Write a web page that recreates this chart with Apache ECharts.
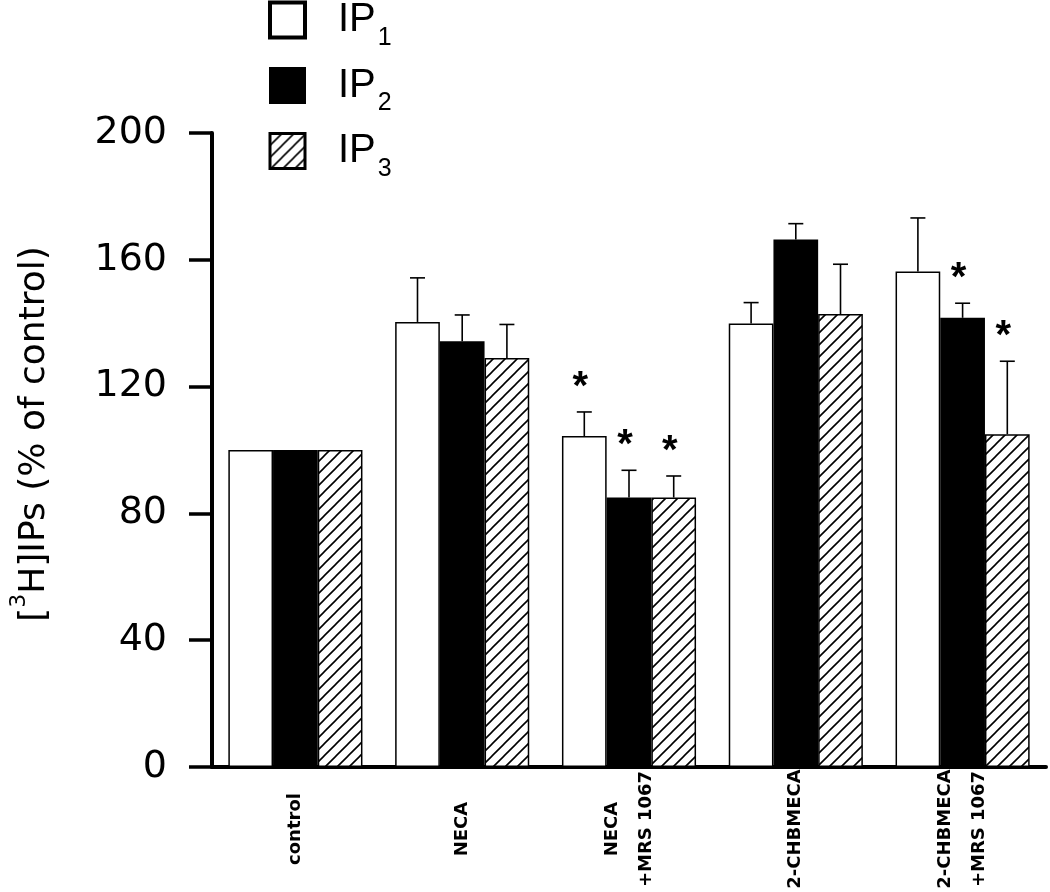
<!DOCTYPE html>
<html>
<head>
<meta charset="utf-8">
<script src="https://cdn.jsdelivr.net/npm/echarts@6/dist/echarts.min.js"></script>
<style>
html,body{margin:0;padding:0;background:#fff;}
#chart{width:1050px;height:892px;}
</style>
</head>
<body>
<div id="chart"></div>
<script>
// ---- data ----
const categories = ['control', 'NECA', 'NECA\n+MRS 1067', '2-CHBMECA', '2-CHBMECA\n+MRS 1067'];
const seriesNames = ['IP1', 'IP2', 'IP3'];
const ip1 = [100, 140.4, 104.4, 139.9, 156.3];
const ip2 = [100, 134.3, 85, 166.4, 141.7];
const ip3 = [100, 129, 85, 142.9, 105];
const ip1Sem = [0, 13.9, 7.6, 6.6, 16.9];
const ip2Sem = [0, 8.3, 8.6, 5.0, 4.6];
const ip3Sem = [0, 10.6, 6.8, 15.7, 23];
const ip1Sig = [0, 0, 1, 0, 0];
const ip2Sig = [0, 0, 1, 0, 1];
const ip3Sig = [0, 0, 1, 0, 1];
const yMin = 0, yMax = 200, yInterval = 40;
const yAxisTitle = '[{sup|3}H]IPs (% of control)';

// ---- styling helpers ----
const CAT_GAP = 0.196;
function hatchPattern() {
  const s = 12;
  const c = document.createElement('canvas');
  c.width = s; c.height = s;
  const g = c.getContext('2d');
  g.fillStyle = '#fff';
  g.fillRect(0, 0, s, s);
  g.strokeStyle = '#000';
  g.lineWidth = 1.6;
  g.beginPath();
  g.moveTo(0, s); g.lineTo(s, 0);
  g.moveTo(-2, 2); g.lineTo(2, -2);
  g.moveTo(s - 2, s + 2); g.lineTo(s + 2, s - 2);
  g.stroke();
  return { image: c, repeat: 'repeat' };
}
const fills = ['#ffffff', '#000000', hatchPattern()];
const means = [ip1, ip2, ip3];
const sems = [ip1Sem, ip2Sem, ip3Sem];
const sigs = [ip1Sig, ip2Sig, ip3Sig];

const barSeries = seriesNames.map((n, k) => ({
  name: n,
  type: 'bar',
  data: means[k],
  barGap: '0%',
  barCategoryGap: (CAT_GAP * 100) + '%',
  itemStyle: { color: fills[k], borderColor: '#000', borderWidth: 1.5 },
  z: 2
}));

const errSeries = seriesNames.map((n, k) => ({
  name: n + '-err',
  type: 'custom',
  z: 3,
  data: categories.map((c, i) => [i, means[k][i], sems[k][i], sigs[k][i]]),
  renderItem: function (params, api) {
    const cat = api.value(0), mean = api.value(1), sem = api.value(2), sig = api.value(3);
    const band = api.size([1, 0])[0];
    const bw = band * (1 - CAT_GAP) / 3;
    const cx = api.coord([cat, 0])[0] + (k - 1) * bw;
    const yBar = api.coord([cat, mean])[1];
    const yTop = api.coord([cat, mean + sem])[1];
    const children = [];
    if (sem > 0) {
      children.push({ type: 'line', shape: { x1: cx, y1: yBar, x2: cx, y2: yTop }, style: { stroke: '#000', lineWidth: 1.6 } });
      children.push({ type: 'line', shape: { x1: cx - 7.5, y1: yTop, x2: cx + 7.5, y2: yTop }, style: { stroke: '#000', lineWidth: 1.6 } });
    }
    if (sig) {
      children.push({ type: 'text', x: cx - 4, y: yTop - 24,
        style: { text: '*', fill: '#000', font: 'bold 40px "Liberation Sans", Arial', align: 'center', verticalAlign: 'middle' } });
    }
    return { type: 'group', children: children };
  }
}));

const chart = echarts.init(document.getElementById('chart'), null, { renderer: 'canvas' });
chart.setOption({
  animation: false,
  backgroundColor: '#fff',
  grid: { left: 207, right: 4, top: 133, bottom: 125, containLabel: false },
  legend: {
    orient: 'vertical',
    left: 263,
    top: -5,
    itemWidth: 35,
    itemHeight: 35,
    itemGap: 15,
    icon: 'rect',
    data: [
      { name: 'IP1', itemStyle: { borderWidth: 4, borderColor: '#000' } },
      { name: 'IP2', itemStyle: { borderWidth: 2, borderColor: '#000' } },
      { name: 'IP3', itemStyle: { borderWidth: 3, borderColor: '#000' } }
    ],
    formatter: function (name) { return '{m|' + name.slice(0, 2) + '}{s|' + name.slice(2) + '}'; },
    textStyle: {
      color: '#000',
      rich: {
        m: { fontSize: 40, fontFamily: '"Liberation Sans", Arial', color: '#000', padding: [0, 0, 0, 28] },
        s: { fontSize: 25, fontFamily: '"Liberation Sans", Arial', color: '#000', padding: [36, 0, 0, 2] }
      }
    }
  },
  xAxis: {
    type: 'category',
    data: categories,
    axisLine: { show: true, lineStyle: { color: '#000', width: 4 } },
    axisTick: { show: false },
    axisLabel: {
      interval: 0, rotate: 90, align: 'center', margin: 62,
      fontSize: 18, fontWeight: 'bold', fontFamily: '"DejaVu Sans", sans-serif', color: '#000', lineHeight: 34
    },
    splitLine: { show: false }
  },
  yAxis: {
    type: 'value',
    min: yMin, max: yMax, interval: yInterval,
    name: yAxisTitle,
    nameLocation: 'middle',
    nameGap: 150,
    nameRotate: 90,
    nameTextStyle: {
      fontSize: 36, fontFamily: '"DejaVu Sans", sans-serif', color: '#000', padding: [0, 0, 0, 32],
      rich: { sup: { fontSize: 22, fontFamily: '"DejaVu Sans", sans-serif', color: '#000', padding: [0, 0, 32, 0] } }
    },
    axisLine: { show: true, lineStyle: { color: '#000', width: 4 } },
    axisTick: { show: true, length: 23, lineStyle: { color: '#000', width: 3.5 } },
    axisLabel: { fontSize: 38, fontFamily: '"DejaVu Sans", sans-serif', color: '#000', margin: 45 },
    splitLine: { show: false }
  },
  series: barSeries.concat(errSeries)
});
</script>
</body>
</html>
